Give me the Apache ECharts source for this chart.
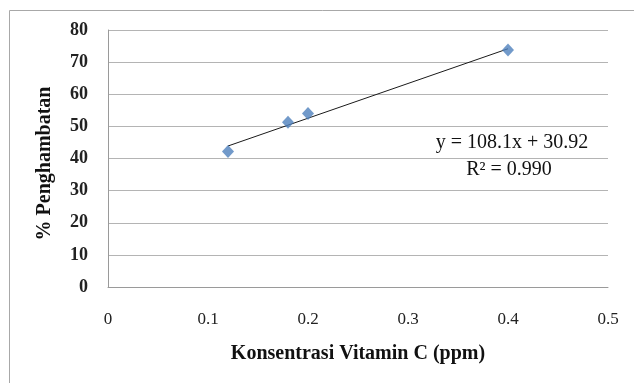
<!DOCTYPE html>
<html>
<head>
<meta charset="utf-8">
<script src="https://cdn.jsdelivr.net/npm/echarts@6/dist/echarts.min.js"></script>
<style>html,body{margin:0;padding:0;background:#fff;}#c{width:634px;height:383px;}</style>
</head>
<body>
<div id="c"></div>
<script>
const concentration = [0.12, 0.18, 0.20, 0.40];
const inhibition = [42.2, 51.3, 54.0, 73.8];
const xTicks = [0, 0.1, 0.2, 0.3, 0.4, 0.5];
const yTicks = [0, 10, 20, 30, 40, 50, 60, 70, 80];
const slope = 108.1;
const intercept = 30.92;
const trendRange = [0.12, 0.40];
const equationText = 'y = 108.1x + 30.92';
const r2Text = 'R² = 0.990';

const points = concentration.map((x, i) => [x, inhibition[i]]);
const trend = trendRange.map(x => [x, slope * x + intercept]);
const serif = '"Liberation Serif", "Times New Roman", serif';

const chart = echarts.init(document.getElementById('c'));
chart.setOption({
  animation: false,
  grid: { left: 108, right: 26, top: 30, bottom: 96 },
  xAxis: {
    type: 'value', min: xTicks[0], max: xTicks[xTicks.length - 1], interval: 0.1,
    name: 'Konsentrasi Vitamin C (ppm)', nameLocation: 'middle', nameGap: 57,
    nameTextStyle: { fontFamily: serif, fontWeight: 'bold', fontSize: 20, color: '#111' },
    axisLine: { show: true, lineStyle: { color: '#9a9a9a', width: 1 } },
    axisTick: { show: false },
    splitLine: { show: false },
    axisLabel: { fontFamily: serif, fontSize: 17, color: '#222', margin: 24,
      formatter: v => String(Math.round(v * 10) / 10) }
  },
  yAxis: {
    type: 'value', min: yTicks[0], max: yTicks[yTicks.length - 1], interval: 10,
    name: '% Penghambatan', nameLocation: 'middle', nameGap: 53,
    nameTextStyle: { fontFamily: serif, fontWeight: 'bold', fontSize: 20, color: '#111', padding: [0, 10, 0, 0] },
    axisLine: { show: true, lineStyle: { color: '#9a9a9a', width: 1 } },
    axisTick: { show: false },
    splitLine: { show: true, lineStyle: { color: '#b4b4b4', width: 1 } },
    axisLabel: { fontFamily: serif, fontSize: 18, fontWeight: 'bold', color: '#222', margin: 20 }
  },
  series: [
    {
      type: 'line', data: trend, symbol: 'none', silent: true,
      lineStyle: { color: '#1a1a1a', width: 1 }, z: 2
    },
    {
      type: 'scatter', data: points, symbol: 'diamond', symbolSize: [12, 13],
      itemStyle: { color: '#4f81bd' }, z: 3
    }
  ],
  graphic: [
    { type: 'rect', shape: { x: 9.5, y: 10.5, width: 700, height: 500 }, style: { fill: 'none', stroke: '#a8a8a8', lineWidth: 1 }, silent: true },
    { type: 'text', x: 512, y: 143, style: { text: equationText, font: '20px ' + serif, fill: '#111', align: 'center', verticalAlign: 'middle' } },
    { type: 'text', x: 509, y: 170, style: { text: r2Text, font: '20px ' + serif, fill: '#111', align: 'center', verticalAlign: 'middle' } }
  ]
});
</script>
</body>
</html>
